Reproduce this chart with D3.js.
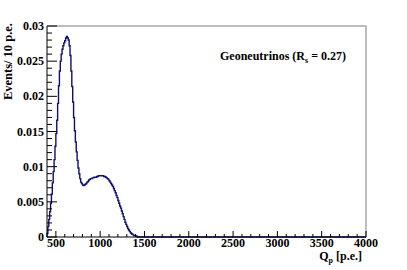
<!DOCTYPE html>
<html>
<head>
<meta charset="utf-8">
<script src="https://cdn.jsdelivr.net/npm/d3@7"></script>
<style>
  body { margin: 0; background: #fff; }
  text { font-family: "Liberation Serif", "DejaVu Serif", serif; font-weight: bold; }
</style>
</head>
<body>
<script>
// histogram: 10 p.e. bins starting at binStart
var binStart = 400;
var binWidth = 10;
var counts = [
  0.0005, 0.0015, 0.0025, 0.0036, 0.0048, 0.0061, 0.0077, 0.0093, 0.0110, 0.0129,
  0.0147, 0.0166, 0.0190, 0.0215, 0.0236, 0.0250, 0.0260, 0.0267, 0.0272, 0.0276,
  0.0279, 0.0283, 0.0285, 0.0283, 0.0280, 0.0272, 0.0258, 0.0236, 0.0214, 0.0192,
  0.0170, 0.0151, 0.0135, 0.0121, 0.0109, 0.0098, 0.0090, 0.0083, 0.0078, 0.0076,
  0.0074, 0.0073, 0.0074, 0.0075, 0.0076, 0.0078, 0.0079, 0.0081, 0.0082, 0.0083,
  0.0083, 0.0084, 0.0084, 0.0085, 0.0085, 0.0085, 0.0086, 0.0086, 0.0087, 0.0087,
  0.0087, 0.0087, 0.0087, 0.0087, 0.0086, 0.0086, 0.0085, 0.0084, 0.0083, 0.0082,
  0.0080, 0.0078, 0.0076, 0.0074, 0.0072, 0.0069, 0.0066, 0.0063, 0.0059, 0.0056,
  0.0052, 0.0048, 0.0044, 0.0041, 0.0037, 0.0033, 0.0029, 0.0025, 0.0021, 0.0018,
  0.0015, 0.0012, 0.0010, 0.0008, 0.0006, 0.0005, 0.0004, 0.0003, 0.0002, 0.0002,
  0.0001, 0.0001, 0, 0
];
var xTicks = [500, 1000, 1500, 2000, 2500, 3000, 3500, 4000];
var yTicks = [0, 0.005, 0.01, 0.015, 0.02, 0.025, 0.03];
var xDomain = [400, 4000];
var yDomain = [0, 0.03];

var W = 407, H = 270;
var margin = {top: 26, right: 41, bottom: 33, left: 47},
    width = W - margin.left - margin.right,
    height = H - margin.top - margin.bottom;

var x = d3.scaleLinear().domain(xDomain).range([0, width]);
var y = d3.scaleLinear().domain(yDomain).range([height, 0]);

var svg = d3.select("body").append("svg")
    .attr("width", W)
    .attr("height", H);
var g = svg.append("g")
    .attr("transform", "translate(" + margin.left + "," + margin.top + ")");

// frame (top and right in gray)
g.append("path")
  .attr("d", "M0,0H" + width + "V" + height)
  .attr("fill", "none")
  .attr("stroke", "#a8a8a8")
  .attr("stroke-width", 1.5);

// histogram as a step line, flat at zero to the end of the axis
var pts = [[binStart, 0]];
counts.forEach(function(c, i) {
  var lo = binStart + i * binWidth;
  pts.push([lo, c]);
  pts.push([lo + binWidth, c]);
});
pts.push([binStart + counts.length * binWidth, 0]);
pts.push([xDomain[1], 0]);

var line = d3.line()
  .x(function(d) { return x(d[0]); })
  .y(function(d) { return y(d[1]); });

g.append("path")
  .attr("d", line(pts))
  .attr("fill", "none")
  .attr("stroke", "#10106e")
  .attr("stroke-width", 1.4);

// x axis: major every 500, minor every 100, ticks point inwards
var xMinor = d3.range(500, 4000, 100).filter(function(v) { return v % 500 !== 0; });
var xAxis = g.append("g").attr("transform", "translate(0," + height + ")");
xAxis.append("line").attr("x1", 0).attr("x2", width).attr("stroke", "#000");
xAxis.selectAll(".maj").data(xTicks).enter().append("line")
  .attr("x1", x).attr("x2", x).attr("y1", 0).attr("y2", -6).attr("stroke", "#000");
xAxis.selectAll(".min").data(xMinor).enter().append("line")
  .attr("x1", x).attr("x2", x).attr("y1", 0).attr("y2", -3).attr("stroke", "#000");
xAxis.selectAll("text").data(xTicks).enter().append("text")
  .attr("x", x).attr("y", 10)
  .attr("text-anchor", "middle")
  .attr("font-size", 12)
  .text(function(d) { return d; });

// y axis: major every 0.005, minor every 0.001
var yMinor = d3.range(1, 30).map(function(i) { return i / 1000; })
  .filter(function(v, i) { return (i + 1) % 5 !== 0; });
var yAxis = g.append("g");
yAxis.append("line").attr("y1", 0).attr("y2", height).attr("stroke", "#000");
yAxis.selectAll(".maj").data(yTicks).enter().append("line")
  .attr("y1", y).attr("y2", y).attr("x1", 0).attr("x2", 10).attr("stroke", "#000");
yAxis.selectAll(".min").data(yMinor).enter().append("line")
  .attr("y1", y).attr("y2", y).attr("x1", 0).attr("x2", 5).attr("stroke", "#000");
yAxis.selectAll("text").data(yTicks).enter().append("text")
  .attr("x", -3).attr("y", function(d) { return y(d) + 4; })
  .attr("text-anchor", "end")
  .attr("font-size", 12)
  .text(function(d) { return d; });

// axis titles
svg.append("text")
  .attr("transform", "translate(12,23) rotate(-90)")
  .attr("text-anchor", "end")
  .attr("font-size", 12.5)
  .text("Events/ 10 p.e.");

var xt = svg.append("text")
  .attr("x", 362).attr("y", 260)
  .attr("text-anchor", "end")
  .attr("font-size", 12);
xt.append("tspan").text("Q");
xt.append("tspan").attr("dy", 3).attr("font-size", 8).text("p");
xt.append("tspan").attr("dy", -3).text(" [p.e.]");

// legend text
var lt = svg.append("text")
  .attr("x", 346).attr("y", 60)
  .attr("text-anchor", "end")
  .attr("font-size", 12);
lt.append("tspan").text("Geoneutrinos (R");
lt.append("tspan").attr("dy", 3).attr("font-size", 8).text("s");
lt.append("tspan").attr("dy", -3).text(" = 0.27)");
</script>
</body>
</html>
